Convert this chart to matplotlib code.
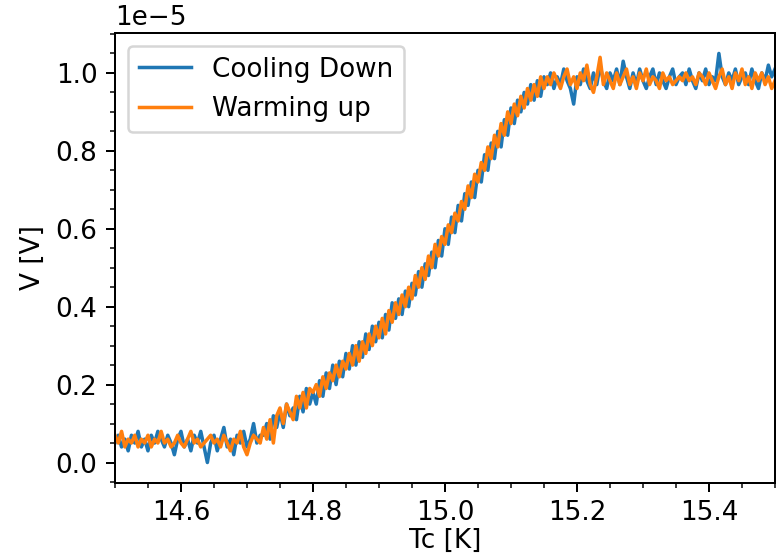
import numpy as np
import matplotlib
matplotlib.use("Agg")
import matplotlib.pyplot as plt
from matplotlib.ticker import MultipleLocator

# Temperature grid (K)
T_start, T_stop, n_pts = 14.5, 15.5, 201
temperature = np.linspace(T_start, T_stop, n_pts)

# Voltage in units of 1e-5 V
cooling_down = [
    0.05, 0.07, 0.04, 0.06, 0.03, 0.07, 0.05, 0.08, 0.04, 0.06,
    0.03, 0.07, 0.05, 0.08, 0.06, 0.04, 0.07, 0.05, 0.02, 0.06,
    0.08, 0.04, 0.06, 0.03, 0.07, 0.05, 0.08, 0.04, 0.00, 0.05,
    0.07, 0.03, 0.06, 0.09, 0.04, 0.06, 0.02, 0.07, 0.05, 0.08,
    0.04, 0.06, 0.10, 0.05, 0.07,
    0.07, 0.10, 0.06, 0.12, 0.09, 0.13, 0.09, 0.15, 0.12, 0.14,
    0.11, 0.17, 0.13, 0.19, 0.15, 0.18, 0.15, 0.21, 0.17, 0.23,
    0.19, 0.25, 0.20, 0.26, 0.22, 0.28, 0.24, 0.30, 0.25, 0.31,
    0.27, 0.33, 0.29, 0.35, 0.31, 0.36, 0.32, 0.38, 0.34, 0.41,
    0.37, 0.42, 0.38, 0.44, 0.40, 0.46, 0.43, 0.49, 0.45, 0.51,
    0.48, 0.54, 0.50, 0.57, 0.53, 0.60, 0.56, 0.63, 0.59, 0.66,
    0.62, 0.69, 0.66, 0.72, 0.68, 0.75, 0.72, 0.79, 0.75, 0.82,
    0.78, 0.85, 0.81, 0.88, 0.84, 0.91, 0.87, 0.93, 0.90, 0.95,
    0.92, 0.97, 0.93, 0.98, 0.94, 0.99,
    0.97, 1.00, 0.96, 0.99, 0.97, 1.01, 0.98, 0.96, 0.92, 0.99,
    0.97, 1.01, 0.98, 0.96, 1.00, 0.97, 1.02, 0.98, 0.96, 1.00,
    0.98, 1.01, 0.97, 1.03, 0.99, 0.96, 1.00, 0.97, 1.01, 0.98,
    0.96, 0.99, 1.01, 0.97, 1.00, 0.98, 0.96, 0.99, 1.01, 0.97,
    0.99, 1.00, 0.97, 1.01, 0.98, 0.96, 1.00, 0.98, 1.01, 0.97,
    0.99, 0.98, 1.05, 0.99, 0.97, 1.00, 0.98, 1.01, 0.97, 0.99,
    1.00, 0.97, 1.01, 0.98, 0.96, 1.00, 0.98, 1.02, 0.99, 1.01,
]

warming_up = [
    0.07, 0.05, 0.08, 0.04, 0.06, 0.05, 0.07, 0.04, 0.06, 0.05,
    0.07, 0.04, 0.06, 0.05, 0.08, 0.05, 0.06, 0.04, 0.05, 0.07,
    0.05, 0.04, 0.06, 0.08, 0.05, 0.06, 0.04, 0.05, 0.06, 0.07,
    0.05, 0.06, 0.04, 0.07, 0.05, 0.03, 0.06, 0.05, 0.08, 0.04,
    0.02, 0.05, 0.07, 0.06, 0.05,
    0.09, 0.06, 0.11, 0.05, 0.12, 0.14, 0.10, 0.15, 0.13, 0.11,
    0.17, 0.14, 0.18, 0.14, 0.19, 0.18, 0.20, 0.17, 0.22, 0.19,
    0.23, 0.21, 0.25, 0.22, 0.26, 0.24, 0.28, 0.25, 0.30, 0.26,
    0.31, 0.28, 0.33, 0.30, 0.35, 0.32, 0.37, 0.33, 0.39, 0.36,
    0.41, 0.38, 0.43, 0.40, 0.45, 0.42, 0.48, 0.45, 0.50, 0.47,
    0.53, 0.50, 0.56, 0.53, 0.58, 0.56, 0.61, 0.59, 0.64, 0.62,
    0.67, 0.65, 0.71, 0.68, 0.74, 0.72, 0.77, 0.75, 0.81, 0.78,
    0.84, 0.81, 0.87, 0.84, 0.90, 0.87, 0.92, 0.89, 0.94, 0.91,
    0.96, 0.93, 0.97, 0.94, 0.99, 0.96,
    0.99, 0.97, 1.00, 0.98, 0.96, 0.99, 1.01, 0.97, 0.99, 0.96,
    1.00, 0.98, 1.02, 0.97, 0.95, 0.99, 1.04, 0.97, 1.00, 0.98,
    0.96, 1.00, 0.97, 0.99, 1.01, 0.97, 0.99, 0.96, 1.00, 0.98,
    1.01, 0.97, 0.99, 0.98, 0.96, 1.00, 0.98, 0.99, 0.97, 0.98,
    0.99, 0.98, 1.00, 0.98, 0.99, 0.97, 1.00, 0.99, 0.97, 1.00,
    0.98, 0.96, 0.99, 1.01, 0.97, 0.99, 0.96, 1.00, 0.98, 1.01,
    0.97, 0.99, 0.96, 1.00, 0.98, 1.00, 0.97, 0.99, 0.96, 0.98,
]

scale = 1e-5
series_labels = ["Cooling Down", "Warming up"]

plt.rcParams["font.size"] = 10.5

DPI = 180
fig = plt.figure(figsize=(781 / DPI, 557 / DPI), dpi=DPI)
ax = fig.add_axes([0.1472, 0.1329, 0.8451, 0.8079])

ax.plot(temperature, np.array(cooling_down) * scale, color="#1f77b4",
        lw=1.4, label=series_labels[0])
ax.plot(temperature, np.array(warming_up) * scale, color="#ff7f0e",
        lw=1.4, label=series_labels[1])

ax.set_xlim(14.5, 15.5)
ax.xaxis.set_major_locator(MultipleLocator(0.2))
ax.xaxis.set_minor_locator(MultipleLocator(0.05))
ax.yaxis.set_major_locator(MultipleLocator(0.2e-5))
ax.yaxis.set_minor_locator(MultipleLocator(0.05e-5))

ax.set_xlabel("Tc [K]", labelpad=0.5)
ax.set_ylabel("V [V]")
ax.legend(loc="upper left")

fig.savefig("out.png", dpi=DPI)
